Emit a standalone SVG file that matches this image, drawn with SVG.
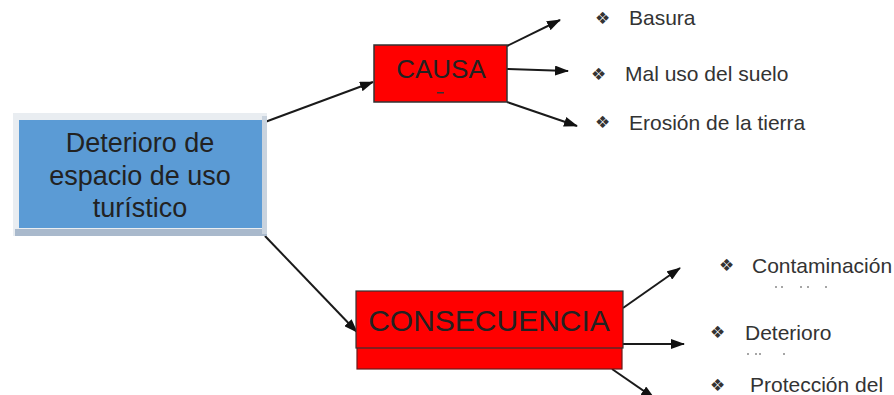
<svg xmlns="http://www.w3.org/2000/svg" width="894" height="395" viewBox="0 0 894 395">
<defs>
<marker id="ah" markerUnits="userSpaceOnUse" markerWidth="14" markerHeight="10" refX="13" refY="5" orient="auto">
<path d="M0,0 L14,5 L0,10 Z" fill="#111"/>
</marker>
<style>
.ln{stroke:#1a1a1a;stroke-width:2;fill:none;marker-end:url(#ah)}
.t{font-family:"Liberation Sans",Arial,sans-serif;fill:#222}
.b{font-family:"DejaVu Sans",sans-serif;font-size:17px;fill:#333}
.it{font-family:"Liberation Sans",Arial,sans-serif;font-size:21px;fill:#333}
.dot{fill:#888}
</style>
</defs>
<rect width="894" height="395" fill="#fff"/>

<g id="connectors">
<line class="ln" x1="265" y1="122" x2="373" y2="82"/>
<line class="ln" x1="265" y1="236" x2="357" y2="332"/>
<line class="ln" x1="507" y1="46" x2="560" y2="20"/>
<line class="ln" x1="507" y1="69" x2="568" y2="71"/>
<line class="ln" x1="507" y1="102" x2="577" y2="126"/>
<line class="ln" x1="623" y1="308" x2="680" y2="268"/>
<line class="ln" x1="623" y1="344" x2="684" y2="344"/>
<line class="ln" x1="612" y1="369" x2="654" y2="398"/>
</g>

<g id="main">
<rect x="13" y="113" width="254" height="123" fill="#e9edf1"/>
<rect x="15" y="229" width="252" height="7" fill="#a9b9cc"/>
<rect x="262" y="116" width="5" height="118" fill="#c9d3de"/>
<rect x="19" y="120" width="243" height="108" fill="#5b9bd5"/>
<text class="t" font-size="27" text-anchor="middle" x="140" y="152">Deterioro de</text>
<text class="t" font-size="27" text-anchor="middle" x="140" y="185">espacio de uso</text>
<text class="t" font-size="27" text-anchor="middle" x="140" y="217">turístico</text>
</g>

<g id="causa">
<rect x="374" y="45" width="133" height="57" fill="#ff0000" stroke="#333" stroke-width="1.5"/>
<text class="t" font-size="26" text-anchor="middle" x="441" y="78">CAUSA</text>
<rect x="437" y="92" width="7" height="1.5" fill="#333"/>
</g>

<g id="consecuencia">
<rect x="357" y="300" width="265" height="69" fill="#ff0000" stroke="#6a1a1a" stroke-width="1.2"/>
<rect x="356" y="291" width="267" height="57" fill="#ff0000" stroke="#333" stroke-width="1.2"/>
<text class="t" font-size="30" text-anchor="middle" x="489" y="331">CONSECUENCIA</text>
</g>

<g id="item-basura">
<text class="b" x="595" y="24">❖</text>
<text class="it" x="629" y="25">Basura</text>
</g>
<g id="item-mal-uso">
<text class="b" x="591" y="80">❖</text>
<text class="it" x="625" y="81">Mal uso del suelo</text>
</g>
<g id="item-erosion">
<text class="b" x="595" y="128">❖</text>
<text class="it" x="629" y="130">Erosión de la tierra</text>
</g>
<g id="item-contaminacion">
<text class="b" x="719" y="271">❖</text>
<text class="it" x="752" y="273">Contaminación</text>
<circle class="dot" cx="776" cy="287" r="1"/>
<circle class="dot" cx="782" cy="287" r="1"/>
<circle class="dot" cx="801" cy="287" r="1"/>
<circle class="dot" cx="808" cy="287" r="1"/>
<circle class="dot" cx="826" cy="287" r="1"/>
</g>
<g id="item-deterioro">
<text class="b" x="710" y="338">❖</text>
<text class="it" x="745" y="340">Deterioro</text>
<circle class="dot" cx="748" cy="354" r="1"/>
<circle class="dot" cx="756" cy="354" r="1"/>
<circle class="dot" cx="760" cy="354" r="1"/>
<circle class="dot" cx="784" cy="354" r="1"/>
</g>
<g id="item-proteccion">
<text class="b" x="710" y="391">❖</text>
<text class="it" x="750" y="392">Protección del</text>
</g>
</svg>
